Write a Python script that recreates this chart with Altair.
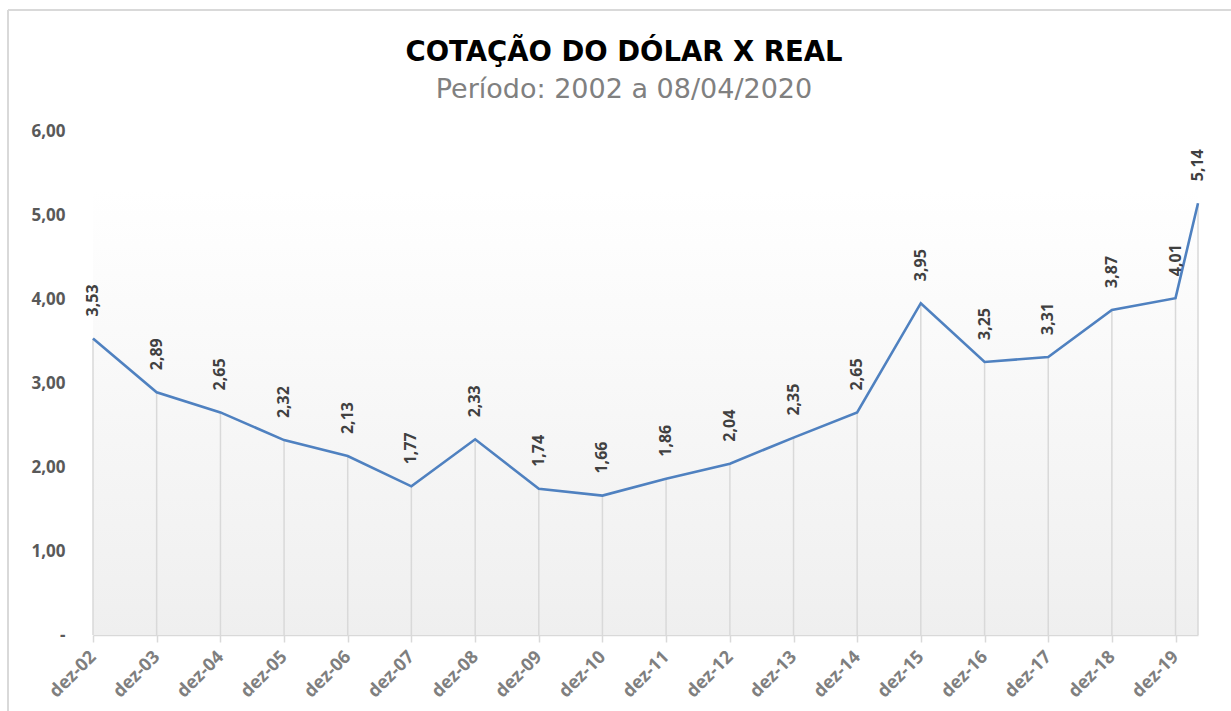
import altair as alt
import pandas as pd

dates = ["2002-12-01", "2003-12-01", "2004-12-01", "2005-12-01", "2006-12-01",
         "2007-12-01", "2008-12-01", "2009-12-01", "2010-12-01", "2011-12-01",
         "2012-12-01", "2013-12-01", "2014-12-01", "2015-12-01", "2016-12-01",
         "2017-12-01", "2018-12-01", "2019-12-01", "2020-04-08"]
values = [3.53, 2.89, 2.65, 2.32, 2.13, 1.77, 2.33, 1.74, 1.66, 1.86,
          2.04, 2.35, 2.65, 3.95, 3.25, 3.31, 3.87, 4.01, 5.14]
tick_years = list(range(2002, 2020))
y_ticks = [0, 1, 2, 3, 4, 5, 6]
band_top = [5.3]
title_text = ["COTAÇÃO  DO DÓLAR  X REAL"]
subtitle_text = ["Período: 2002 a 08/04/2020"]

df = pd.DataFrame({"date": dates, "valor": values})
band = pd.DataFrame({"start": [dates[0]], "end": [dates[-1]], "top": band_top, "bottom": [0]})

FONT = "Open Sans"
TFONT = "DejaVu Sans"
W, H = 1105, 504

xscale = alt.Scale(type="utc", domain=[dates[0], dates[-1]], nice=False)
yscale = alt.Scale(domain=[0, 6], nice=False)

xaxis = alt.Axis(
    values=[alt.DateTime(year=y, month=12, date=1, utc=True) for y in tick_years],
    labelExpr="'dez-' + utcFormat(datum.value, '%y')",
    labelAngle=-45, labelAlign="right", labelBaseline="middle",
    labelFont=FONT, labelFontSize=18, labelFontWeight="bold", labelColor="#7f7f7f",
    labelPadding=12, labelOverlap=False, labelFlush=False,
    domainColor="#d9d9d9", domainWidth=1.5, tickColor="#d9d9d9", tickWidth=1.5,
    tickSize=7, grid=False, title=None,
)
yaxis = alt.Axis(
    values=y_ticks,
    labelExpr="datum.value == 0 ? '-' : replace(format(datum.value, '.2f'), '.', ',')",
    labelFont=FONT, labelFontSize=17, labelFontWeight="bold", labelColor="#595959",
    labelPadding=28, domain=False, ticks=False, grid=False, title=None,
)

bg = alt.Chart(band).mark_rect(
    fill=alt.Gradient(gradient="linear",
                      stops=[alt.GradientStop(color="#ffffff", offset=0),
                             alt.GradientStop(color="#efefef", offset=1)],
                      x1=0, x2=0, y1=0, y2=1)
).encode(
    x=alt.X("start:T", scale=xscale, axis=xaxis),
    x2="end:T",
    y=alt.Y("top:Q", scale=yscale, axis=yaxis),
    y2="bottom:Q",
)

base = alt.Chart(df).encode(
    x=alt.X("date:T", scale=xscale, axis=xaxis),
)

drops = base.mark_rule(color="#d9d9d9", strokeWidth=1.5).encode(
    y=alt.Y("valor:Q", scale=yscale, axis=yaxis),
    y2=alt.datum(0),
)

line = base.mark_line(color="#4f81c0", strokeWidth=2.6).encode(
    y=alt.Y("valor:Q", scale=yscale, axis=yaxis),
)

labels = base.transform_calculate(
    lbl="replace(format(datum.valor, '.2f'), '.', ',')"
).mark_text(
    angle=270, align="left", baseline="middle", dx=22,
    font=FONT, fontSize=16, fontWeight="bold", color="#404040",
).encode(
    y=alt.Y("valor:Q", scale=yscale, axis=yaxis),
    text="lbl:N",
)

border_data = pd.DataFrame({"a": [0]})
left_border = alt.Chart(border_data).mark_rule(color="#d9d9d9", strokeWidth=2).encode(
    x=alt.value(-85), y=alt.value(-121), y2=alt.value(600)
)
top_border = alt.Chart(border_data).mark_rule(color="#d9d9d9", strokeWidth=2).encode(
    x=alt.value(-85), x2=alt.value(1160), y=alt.value(-121)
)

title_mark = alt.Chart(pd.DataFrame({"t": title_text})).mark_text(
    font=TFONT, fontSize=27.5, fontWeight="bold", color="#000000",
    align="center", baseline="alphabetic",
).encode(x=alt.value(531), y=alt.value(-70), text="t:N")

subtitle_mark = alt.Chart(pd.DataFrame({"t": subtitle_text})).mark_text(
    font=TFONT, fontSize=27, color="#808080",
    align="center", baseline="alphabetic",
).encode(x=alt.value(531), y=alt.value(-33), text="t:N")

chart = alt.layer(bg, drops, line, labels, left_border, top_border,
                  title_mark, subtitle_mark).properties(
    width=W, height=H,
    background="white",
    autosize=alt.AutoSizeParams(type="none"),
    padding={"left": 93, "top": 131, "right": 33, "bottom": 76},
).configure_view(strokeWidth=0, stroke="transparent")

chart.save("out.html", embed_options={"renderer": "svg", "actions": False})
